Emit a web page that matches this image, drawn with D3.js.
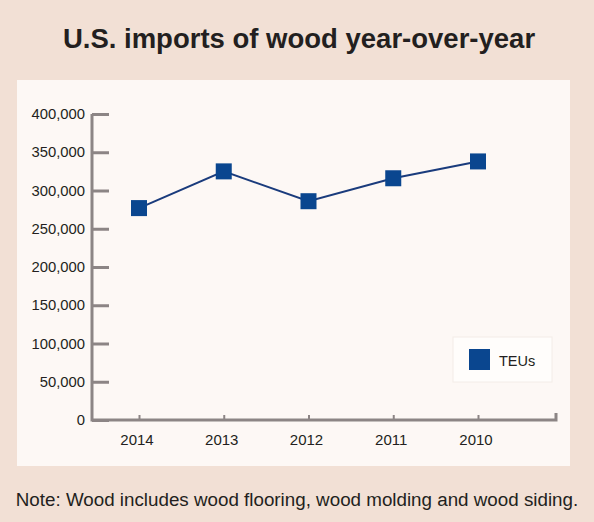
<!DOCTYPE html>
<html lang="en">
<head>
    <meta charset="UTF-8">
    <title>U.S. imports of wood year-over-year</title>
    <script src="https://cdn.jsdelivr.net/npm/d3@7"></script>
    <style>
        body { margin: 0; background: #f2e0d5; }
        svg { display: block; font-family: "Liberation Sans", Arial, sans-serif; }
    </style>
</head>
<body>
    <div id="chart-space"></div>

    <script>
        // data
        var years = ["2014", "2013", "2012", "2011", "2010"];
        var teus = [277000, 325000, 286000, 316000, 338000];
        var yTicks = [0, 50000, 100000, 150000, 200000, 250000, 300000, 350000, 400000];
        var seriesName = "TEUs";

        var width = 594;
        var height = 522;

        var plot = {left: 92, right: 556, top: 114, bottom: 420};

        var svg = d3.select("#chart-space")
            .append("svg")
            .attr("width", width)
            .attr("height", height);

        svg.append("rect")
            .attr("width", width)
            .attr("height", height)
            .attr("fill", "#f2e0d5");

        // light panel behind the chart
        svg.append("rect")
            .attr("x", 17)
            .attr("y", 80)
            .attr("width", 553)
            .attr("height", 386)
            .attr("fill", "#fdf8f5");

        svg.append("text")
            .attr("x", 299)
            .attr("y", 48)
            .attr("text-anchor", "middle")
            .attr("font-size", "27.5px")
            .attr("font-weight", "bold")
            .attr("fill", "#231f20")
            .text("U.S. imports of wood year-over-year");

        var xScale = d3.scalePoint()
            .domain(years)
            .range([139, 478]);

        var yScale = d3.scaleLinear()
            .domain([0, 400000])
            .range([plot.bottom, plot.top]);

        var axisColor = "#8c8585";

        // y axis: ticks point inward
        var yAxis = svg.append("g")
            .attr("transform", "translate(" + plot.left + ",0)")
            .call(d3.axisRight(yScale)
                .tickValues(yTicks)
                .tickSize(17)
                .tickFormat(""));
        yAxis.select(".domain").remove();
        yAxis.selectAll(".tick line")
            .attr("stroke", axisColor)
            .attr("stroke-width", 3);

        svg.selectAll(".ylabel")
            .data(yTicks)
            .join("text")
            .attr("class", "ylabel")
            .attr("x", 85)
            .attr("y", function(d) { return yScale(d); })
            .attr("dy", "0.35em")
            .attr("text-anchor", "end")
            .attr("font-size", "14.8px")
            .attr("fill", "#231f20")
            .text(function(d) { return d3.format(",")(d); });

        var xAxis = svg.append("g")
            .attr("transform", "translate(0," + plot.bottom + ")")
            .call(d3.axisTop(xScale).tickSize(5).tickFormat(""));
        xAxis.select(".domain").remove();
        xAxis.selectAll(".tick line")
            .attr("stroke", axisColor)
            .attr("stroke-width", 2);

        svg.selectAll(".xlabel")
            .data(years)
            .join("text")
            .attr("class", "xlabel")
            .attr("x", function(d) { return xScale(d) - 2; })
            .attr("y", 445)
            .attr("text-anchor", "middle")
            .attr("font-size", "15px")
            .attr("fill", "#231f20")
            .text(function(d) { return d; });

        // axis lines
        svg.append("path")
            .attr("d", "M" + plot.left + "," + plot.top + "V" + plot.bottom + "H" + plot.right + "V" + (plot.bottom - 7))
            .attr("fill", "none")
            .attr("stroke", axisColor)
            .attr("stroke-width", 3);

        var line = d3.line()
            .x(function(d, i) { return xScale(years[i]); })
            .y(function(d) { return yScale(d); });

        svg.append("path")
            .datum(teus)
            .attr("d", line)
            .attr("fill", "none")
            .attr("stroke", "#1a3b7c")
            .attr("stroke-width", 2);

        var size = 16;
        svg.selectAll(".marker")
            .data(teus)
            .join("rect")
            .attr("class", "marker")
            .attr("x", function(d, i) { return xScale(years[i]) - size / 2; })
            .attr("y", function(d) { return yScale(d) - size / 2; })
            .attr("width", size)
            .attr("height", size)
            .attr("fill", "#0a468f");

        // legend
        var legend = svg.append("g").attr("transform", "translate(453,337)");
        legend.append("rect")
            .attr("width", 99)
            .attr("height", 45)
            .attr("fill", "#fffdfb")
            .attr("stroke", "#f3ece8")
            .attr("stroke-width", 1);
        legend.append("rect")
            .attr("x", 16)
            .attr("y", 12)
            .attr("width", 21)
            .attr("height", 21)
            .attr("fill", "#0a468f");
        legend.append("text")
            .attr("x", 46)
            .attr("y", 29)
            .attr("font-size", "14.5px")
            .attr("fill", "#231f20")
            .text(seriesName);

        svg.append("text")
            .attr("x", 297)
            .attr("y", 506)
            .attr("text-anchor", "middle")
            .attr("font-size", "18.8px")
            .attr("fill", "#231f20")
            .text("Note: Wood includes wood flooring, wood molding and wood siding.");
    </script>
</body>
</html>
